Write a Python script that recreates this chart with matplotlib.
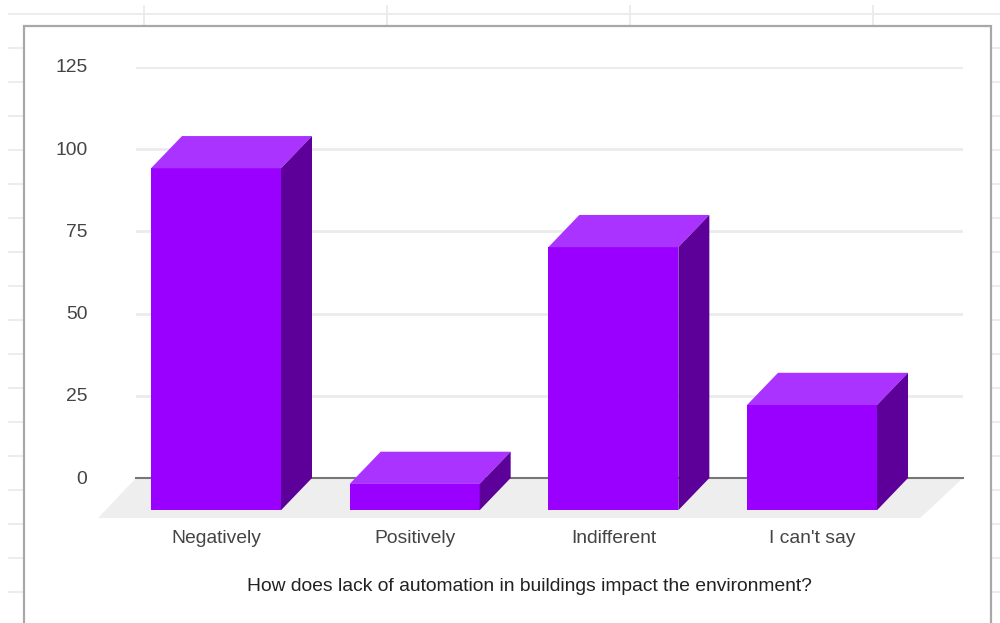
import matplotlib
matplotlib.use("Agg")
import matplotlib.pyplot as plt
from matplotlib.lines import Line2D
from matplotlib.patches import Polygon, Rectangle
from matplotlib.transforms import ScaledTranslation

categories = ["Negatively", "Positively", "Indifferent", "I can't say"]
values = [104, 8, 80, 32]
y_ticks = [0, 25, 50, 75, 100, 125]
x_title = "How does lack of automation in buildings impact the environment?"

FRONT = "#9900ff"
TOP = "#aa33ff"
SIDE = "#5c0099"
GRID = "#ebebeb"
TEXT = "#444444"
W, H = 1000, 623

plt.rcParams["font.family"] = ["Liberation Sans", "DejaVu Sans"]

fig = plt.figure(figsize=(W / 100, H / 100), dpi=100, facecolor="white")


def px_line(x0, y0, x1, y1, color="#ececec", lw=1.4):
    fig.add_artist(Line2D([x0 / W, x1 / W], [1 - y0 / H, 1 - y1 / H],
                          color=color, lw=lw, transform=fig.transFigure, zorder=-2))


# spreadsheet cells behind the chart card
px_line(9, 14, 1000, 14)
for col_x in [144, 387, 630, 873]:
    px_line(col_x, 6, col_x, 26)
for row_y in range(48, 623, 34):
    px_line(9, row_y, 24, row_y)
    px_line(991, row_y, 1000, row_y)

# chart card, left open at the bottom edge
fig.add_artist(Rectangle((24 / W, -0.05), 967 / W, 1 - 26 / H + 0.05,
                         transform=fig.transFigure, facecolor="white",
                         edgecolor="#a8a8a8", lw=1.6, zorder=-1))

ax = fig.add_axes([136 / W, 1 - 478 / H, 827 / W, 411 / H])
ax.patch.set_alpha(0)
for spine in ax.spines.values():
    spine.set_visible(False)

# x axis is in category steps, y axis in responses
ax.set_xlim(-0.4027, 3.76)
ax.set_ylim(0, 125)

bar_w = 130 / 198.67
depth_x = 31 / 198.67
depth_y = 9.8

# floor of the 3D box
ax.add_patch(Polygon([(-0.4027, 0), (3.76, 0), (3.76 - 0.216, -12.2), (-0.4027 - 0.191, -12.2)],
                     closed=True, facecolor="#eeeeee", edgecolor="none", clip_on=False, zorder=1))

ax.set_yticks(y_ticks)
ax.yaxis.grid(True, color=GRID, lw=2)
ax.set_axisbelow(True)
ax.axhline(0, color="#777777", lw=1.5, zorder=2, clip_on=False)

ax.set_xticks(range(len(categories)))
ax.set_xticklabels(categories)
ax.tick_params(axis="x", length=0, pad=37.5, labelsize=13.9, labelcolor=TEXT)
ax.tick_params(axis="y", length=0, pad=35, labelsize=13.9, labelcolor=TEXT)

# nudge the y labels up a touch so they sit on their grid lines
nudge = ScaledTranslation(0, 1 / 100, fig.dpi_scale_trans)
for lbl in ax.get_yticklabels():
    lbl.set_transform(lbl.get_transform() + nudge)

ax.set_xlabel(x_title, fontsize=13.9, color="#222222", va="center")
ax.xaxis.set_label_coords(0.476, -0.265)

for i, val in enumerate(values):
    left = i - bar_w / 2
    right = i + bar_w / 2
    base = -depth_y
    top = base + val
    ax.bar(i, val, width=bar_w, bottom=base, color=FRONT, zorder=3, clip_on=False)
    ax.add_patch(Polygon([(left, top), (right, top), (right + depth_x, top + depth_y), (left + depth_x, top + depth_y)],
                         closed=True, facecolor=TOP, edgecolor="none", clip_on=False, zorder=3))
    ax.add_patch(Polygon([(right, base), (right + depth_x, base + depth_y), (right + depth_x, top + depth_y), (right, top)],
                         closed=True, facecolor=SIDE, edgecolor="none", clip_on=False, zorder=3))

fig.savefig("out.png", dpi=100)
